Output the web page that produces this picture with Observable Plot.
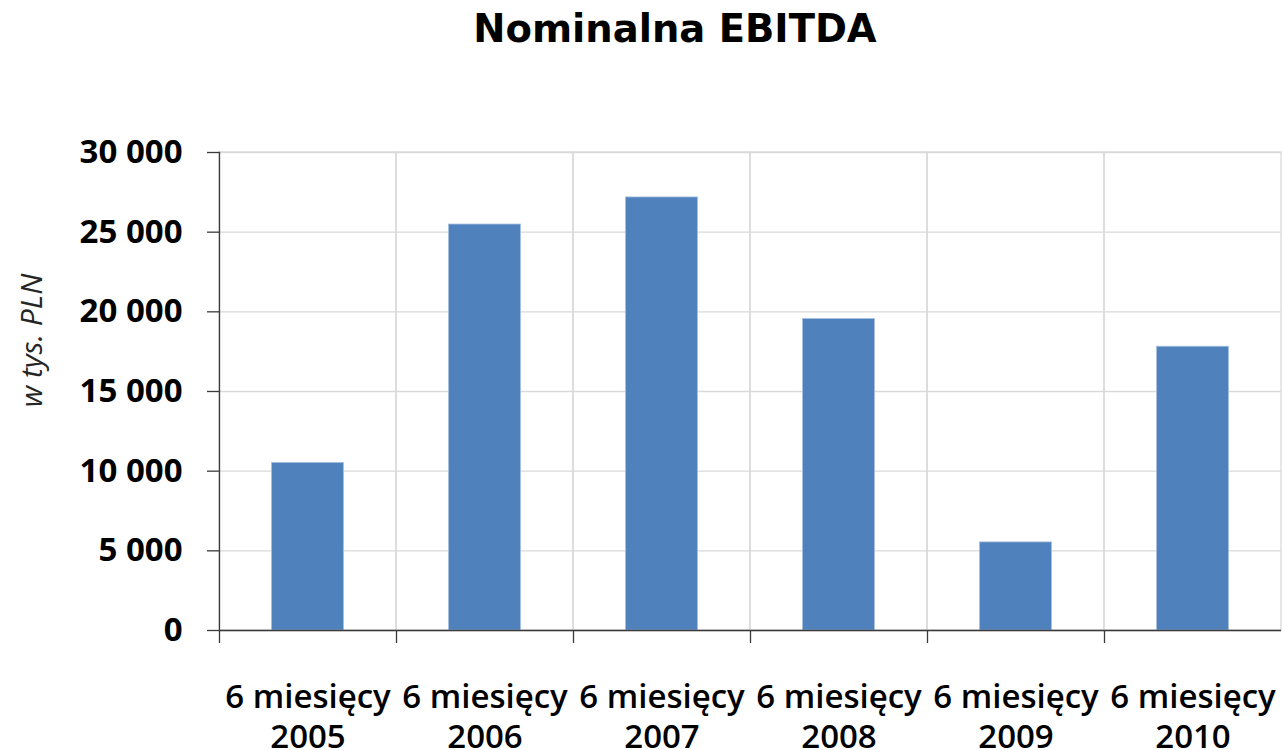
<!DOCTYPE html>
<html><head><meta charset="utf-8">
<script src="https://cdn.jsdelivr.net/npm/d3@7"></script>
<script src="https://cdn.jsdelivr.net/npm/@observablehq/plot@0.6"></script>
<style>
body{margin:0;background:#fff;}
#wrap{position:relative;width:1282px;height:750px;overflow:hidden;}
#title{position:absolute;left:675px;top:10px;transform:translateX(-50%);font-family:"DejaVu Sans";font-weight:bold;font-size:38.5px;line-height:1;white-space:nowrap;color:#000;}
#chart{position:absolute;left:0;top:100px;}
</style></head><body>
<div id="wrap"><div id="title"></div><div id="chart"></div></div>
<script>
const titleText = "Nominalna EBITDA";
const categories = ["6 miesięcy\n2005", "6 miesięcy\n2006", "6 miesięcy\n2007", "6 miesięcy\n2008", "6 miesięcy\n2009", "6 miesięcy\n2010"];
const values = [10520, 25480, 27180, 19550, 5530, 17810];
const yTicks = [0, 5000, 10000, 15000, 20000, 25000, 30000];
const yLabel = "w tys. PLN";

document.getElementById("title").textContent = titleText;
const data = categories.map((c, i) => ({category: c, value: values[i]}));
const fmt = d3.formatLocale({decimal: ",", thousands: " ", grouping: [3], currency: ["", ""]}).format(",");

const W = 1282, H = 650, ML = 219, MR = 1, MT = 52, MB = 120;
const step = (W - ML - MR) / categories.length;
const grid = "#d9d9d9", axisCol = "#3a3a3a";

const chart = Plot.plot({
  width: W, height: H,
  marginTop: MT, marginBottom: MB, marginLeft: ML, marginRight: MR,
  x: {domain: categories, padding: 0, label: null},
  y: {domain: [0, 30000], label: null},
  style: {background: "#fff", overflow: "visible", fontFamily: "'Open Sans'", color: "#000"},
  marks: [
    Plot.gridY(yTicks, {stroke: grid, strokeOpacity: 1, strokeWidth: 1.3}),
    Plot.barY(categories, {x: d => d, y1: 0, y2: 30000, fill: "none", stroke: grid, strokeWidth: 1.3}),
    Plot.barY(data, {x: "category", y: "value", fill: "#4F81BD", stroke: "#a9c0e0", strokeWidth: 0.8, insetLeft: 52.5, insetRight: 52.5}),
    Plot.ruleY([0], {stroke: axisCol, strokeWidth: 1.3}),
    Plot.frame({anchor: "left", stroke: axisCol, strokeWidth: 1.3}),
    Plot.axisY(yTicks, {tickSize: 12, tickPadding: 25, fontSize: 33, fontWeight: 700, tickFormat: fmt, stroke: axisCol, strokeWidth: 1.3, fill: "#000", label: null}),
    Plot.axisX({tickSize: 13, tickFormat: () => "", dx: -step / 2, stroke: axisCol, strokeWidth: 1.3, label: null}),
    Plot.axisX({tickSize: 0, tickPadding: 49.5, fontSize: 33, fontWeight: 600, lineHeight: 1.21, fill: "#000", label: null}),
    Plot.text([yLabel], {frameAnchor: "left", textAnchor: "middle", rotate: -90, dx: -187, dy: -51, fontSize: 30, fontStyle: "italic", fill: "#262626", style: "letter-spacing:1.5px;word-spacing:6px"})
  ]
});
document.getElementById("chart").appendChild(chart);
</script>
</body></html>
